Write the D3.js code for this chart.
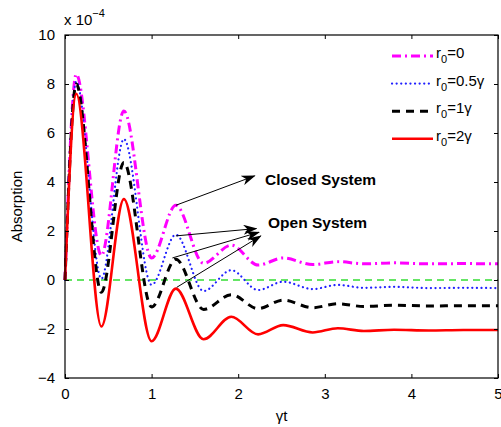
<!DOCTYPE html>
<html><head><meta charset="utf-8">
<script src="https://cdn.jsdelivr.net/npm/d3@7/dist/d3.min.js"></script>
<style>body{margin:0;background:#fff}svg{display:block;font-family:"Liberation Sans",Arial,sans-serif}</style>
</head><body><svg id="c" width="501" height="427"></svg>
<script>
// time grid (γt) at curve extrema
const tGrid = [0, 0.13, 0.42, 0.68, 1.0, 1.28, 1.6, 1.92, 2.23, 2.52, 2.86, 3.15, 3.45, 3.8, 4.2, 4.6, 5.0];
// Absorption values (×10^-4)
const yR0_0   = [0, 8.4, 1.0, 6.9, 0.9, 3.05, 0.68, 1.42, 0.61, 0.9, 0.63, 0.75, 0.66, 0.7, 0.66, 0.67, 0.66];
const yR0_05  = [0, 8.1, 0.05, 5.75, -0.2, 1.85, -0.45, 0.4, -0.41, -0.07, -0.37, -0.2, -0.32, -0.28, -0.33, -0.32, -0.33];
const yR0_1   = [0, 8.0, -0.5, 4.8, -1.1, 0.85, -1.2, -0.6, -1.17, -0.82, -1.13, -0.97, -1.08, -1.03, -1.06, -1.05, -1.05];
const yR0_2   = [0, 7.6, -1.9, 3.3, -2.5, -0.35, -2.42, -1.5, -2.22, -1.84, -2.14, -1.97, -2.08, -2.03, -2.06, -2.04, -2.04];
const legendLabels = [["0", "=0"], ["0", "=0.5γ"], ["0", "=1γ"], ["0", "=2γ"]];
const xTicks = [0, 1, 2, 3, 4, 5];
const yTicks = [-4, -2, 0, 2, 4, 6, 8, 10];
// annotation arrows: [from (t, value), to (t, value)]
const closedArrow = [[1.28, 3.05], [2.19, 4.25]];
const openArrows = [
  [[1.28, 1.8], [2.21, 2.1]],
  [[1.24, 0.9], [2.24, 1.95]],
  [[1.29, -0.3], [2.26, 1.8]]
];

const svg = d3.select("#c");
const L = 65, R = 498, T = 35, B = 378;
const x = d3.scaleLinear().domain([0, 5]).range([L, R]);
const y = d3.scaleLinear().domain([-4, 10]).range([B, T]);

// zero reference line
svg.append("line").attr("x1", x(0)).attr("x2", x(5)).attr("y1", y(0)).attr("y2", y(0))
  .attr("stroke", "#33dd33").attr("stroke-width", 1.3).attr("stroke-dasharray", "7,5");

const series = [
  {v: yR0_0, color: "#ff00ff", w: 3, dash: "9,4,2,4", cap: "butt"},
  {v: yR0_05, color: "#2020ff", w: 2.2, dash: "0.1,4.5", cap: "round"},
  {v: yR0_1, color: "#000", w: 3, dash: "8,6", cap: "butt"},
  {v: yR0_2, color: "#ff0000", w: 2.6, dash: null, cap: "butt"}
];
const line = d3.line().x((d, i) => x(tGrid[i])).y(d => y(d)).curve(d3.curveMonotoneX);
series.forEach(s => {
  svg.append("path").datum(s.v).attr("d", line).attr("fill", "none")
    .attr("stroke", s.color).attr("stroke-width", s.w).attr("stroke-linecap", s.cap)
    .attr("stroke-dasharray", s.dash);
});

// frame
svg.append("rect").attr("x", L).attr("y", T).attr("width", R - L).attr("height", B - T)
  .attr("fill", "none").attr("stroke", "#000").attr("stroke-width", 1.2);

// axes with inward ticks
const fmt = d => d < 0 ? "\u2212" + Math.abs(d) : String(d);
const ax = svg.append("g").attr("transform", `translate(0,${B})`)
  .call(d3.axisBottom(x).tickValues(xTicks).tickSize(-4).tickPadding(10).tickFormat(fmt));
const axT = svg.append("g").attr("transform", `translate(0,${T})`)
  .call(d3.axisTop(x).tickValues(xTicks).tickSize(-4).tickFormat(""));
const ay = svg.append("g").attr("transform", `translate(${L},0)`)
  .call(d3.axisLeft(y).tickValues(yTicks).tickSize(-4).tickPadding(10).tickFormat(fmt));
const ayR = svg.append("g").attr("transform", `translate(${R},0)`)
  .call(d3.axisRight(y).tickValues(yTicks).tickSize(-4).tickFormat(""));
[ax, axT, ay, ayR].forEach(g => {
  g.select(".domain").remove();
  g.selectAll("text").attr("font-size", 15).attr("fill", "#000").attr("font-family", "Liberation Sans, Arial, sans-serif");
  g.selectAll("line").attr("stroke", "#000");
});
// keep the last x tick label inside the picture
ax.selectAll("text").filter(d => d === 5).attr("text-anchor", "end").attr("dx", 4);

// multiplier
const mt = svg.append("text").attr("x", 64).attr("y", 25).attr("font-size", 15);
mt.append("tspan").text("x 10");
mt.append("tspan").attr("dy", -8).attr("font-size", 11).text("\u22124");

// axis labels
svg.append("text").attr("transform", `translate(22,${(T + B) / 2}) rotate(-90)`)
  .attr("text-anchor", "middle").attr("font-size", 15).text("Absorption");
svg.append("text").attr("x", x(2.5)).attr("y", 421).attr("text-anchor", "middle")
  .attr("font-size", 15).text("γt");

// legend
const lg = svg.append("g");
series.forEach((s, i) => {
  const yy = 56 + i * 27.6;
  lg.append("line").attr("x1", 392).attr("x2", 433).attr("y1", yy).attr("y2", yy)
    .attr("stroke", s.color).attr("stroke-width", s.w).attr("stroke-linecap", s.cap)
    .attr("stroke-dasharray", s.dash);
  const t = lg.append("text").attr("x", 436).attr("y", yy + 2).attr("font-size", 15);
  t.append("tspan").text("r");
  t.append("tspan").attr("dy", 5).attr("font-size", 11).text(legendLabels[i][0]);
  t.append("tspan").attr("dy", -5).text(legendLabels[i][1]);
});

// arrows
const defs = svg.append("defs");
defs.append("marker").attr("id", "ah").attr("viewBox", "0 0 14 10").attr("refX", 13).attr("refY", 5)
  .attr("markerWidth", 14).attr("markerHeight", 10).attr("markerUnits", "userSpaceOnUse")
  .attr("orient", "auto").append("path").attr("d", "M0,0 L14,5 L0,10 L4,5 Z").attr("fill", "#000");
const drawArrow = a => svg.append("line")
  .attr("x1", x(a[0][0])).attr("y1", y(a[0][1])).attr("x2", x(a[1][0])).attr("y2", y(a[1][1]))
  .attr("stroke", "#000").attr("stroke-width", 1).attr("marker-end", "url(#ah)");
drawArrow(closedArrow);
openArrows.forEach(drawArrow);
svg.append("text").attr("x", 265).attr("y", 185).attr("font-size", 15.5).attr("font-weight", "bold").text("Closed System");
svg.append("text").attr("x", 268).attr("y", 228).attr("font-size", 15.5).attr("font-weight", "bold").text("Open System");
</script></body></html>
